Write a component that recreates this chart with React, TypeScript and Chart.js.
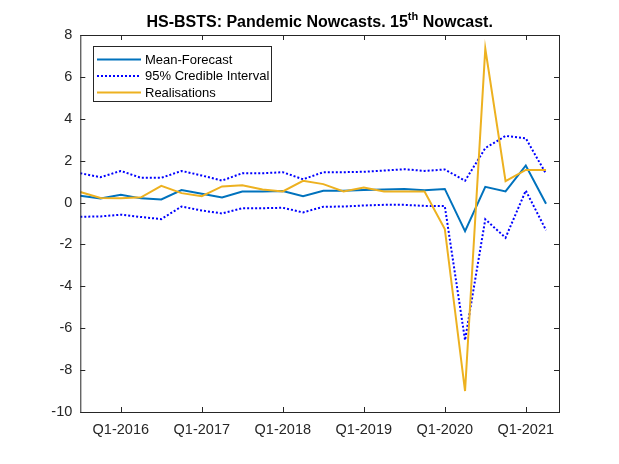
import React, { useEffect, useRef } from 'react';
import { Chart, registerables } from 'chart.js';

Chart.register(...registerables);

// quarters from Q3-2015 to Q2-2021
const quarters = [
  'Q3-2015', 'Q4-2015', 'Q1-2016', 'Q2-2016', 'Q3-2016', 'Q4-2016',
  'Q1-2017', 'Q2-2017', 'Q3-2017', 'Q4-2017', 'Q1-2018', 'Q2-2018',
  'Q3-2018', 'Q4-2018', 'Q1-2019', 'Q2-2019', 'Q3-2019', 'Q4-2019',
  'Q1-2020', 'Q2-2020', 'Q3-2020', 'Q4-2020', 'Q1-2021', 'Q2-2021',
];

const meanForecast = [
  0.33, 0.2, 0.37, 0.2, 0.15, 0.6, 0.42, 0.24, 0.53, 0.53, 0.55, 0.3,
  0.56, 0.56, 0.6, 0.62, 0.65, 0.59, 0.65, -1.37, 0.75, 0.53, 1.77, -0.06,
];
const upperCI = [
  1.4, 1.21, 1.51, 1.18, 1.18, 1.51, 1.29, 1.05, 1.4, 1.4, 1.45, 1.11,
  1.45, 1.45, 1.47, 1.53, 1.59, 1.51, 1.58, 1.04, 2.6, 3.18, 3.07, 1.37,
];
const lowerCI = [
  -0.68, -0.66, -0.58, -0.69, -0.79, -0.19, -0.38, -0.52, -0.27, -0.27, -0.25, -0.47,
  -0.2, -0.19, -0.14, -0.11, -0.11, -0.16, -0.17, -6.57, -0.8, -1.68, 0.57, -1.32,
];
const realisations = [
  0.5, 0.22, 0.2, 0.25, 0.8, 0.45, 0.3, 0.77, 0.83, 0.62, 0.53, 1.04,
  0.88, 0.53, 0.72, 0.53, 0.53, 0.53, -1.26, -9.0, 7.35, 1.02, 1.56, 1.56,
];

const xTickLabels = ['Q1-2016', 'Q1-2017', 'Q1-2018', 'Q1-2019', 'Q1-2020', 'Q1-2021'];
const yTicks = [-10, -8, -6, -4, -2, 0, 2, 4, 6, 8];

const AXIS_COLOR = '#262626';
const FONT = '"Liberation Sans", Arial, sans-serif';

const toPoints = (vals: number[]) => vals.map((y, i) => ({ x: i, y }));

// box, inward ticks, title and legend drawn MATLAB-like
const decorPlugin = {
  id: 'decor',
  afterDatasetsDraw(chart: any) {
    const { ctx, chartArea: a, scales } = chart;
    ctx.save();
    ctx.strokeStyle = AXIS_COLOR;
    ctx.lineWidth = 1;
    ctx.strokeRect(a.left + 0.5, a.top + 0.5, a.right - a.left, a.bottom - a.top);
    ctx.beginPath();
    const tl = 5;
    scales.x.ticks.forEach((t: any) => {
      const px = Math.round(scales.x.getPixelForValue(t.value)) + 0.5;
      ctx.moveTo(px, a.bottom);
      ctx.lineTo(px, a.bottom - tl);
      ctx.moveTo(px, a.top);
      ctx.lineTo(px, a.top + tl);
    });
    scales.y.ticks.forEach((t: any) => {
      const py = Math.round(scales.y.getPixelForValue(t.value)) + 0.5;
      ctx.moveTo(a.left, py);
      ctx.lineTo(a.left + tl, py);
      ctx.moveTo(a.right, py);
      ctx.lineTo(a.right - tl, py);
    });
    ctx.stroke();

    // title with superscript
    const cx = (a.left + a.right) / 2;
    const part1 = 'HS-BSTS: Pandemic Nowcasts. 15';
    const sup = 'th';
    const part2 = ' Nowcast.';
    ctx.fillStyle = '#000';
    ctx.textBaseline = 'alphabetic';
    ctx.textAlign = 'left';
    ctx.font = `bold 16px ${FONT}`;
    const w1 = ctx.measureText(part1).width;
    const w3 = ctx.measureText(part2).width;
    ctx.font = `bold 11px ${FONT}`;
    const w2 = ctx.measureText(sup).width;
    const x0 = cx - (w1 + w2 + w3) / 2;
    const by = 27;
    ctx.font = `bold 16px ${FONT}`;
    ctx.fillText(part1, x0, by);
    ctx.font = `bold 11px ${FONT}`;
    ctx.fillText(sup, x0 + w1, by - 7);
    ctx.font = `bold 16px ${FONT}`;
    ctx.fillText(part2, x0 + w1 + w2, by);

    // legend
    const lx = 93.5, ly = 46.5, lw = 178, lh = 55;
    ctx.fillStyle = '#fff';
    ctx.fillRect(lx, ly, lw, lh);
    ctx.strokeStyle = AXIS_COLOR;
    ctx.strokeRect(lx, ly, lw, lh);
    ctx.font = `13px ${FONT}`;
    ctx.textBaseline = 'middle';
    chart.data.datasets.forEach((ds: any) => {
      if (ds.hideInLegend) return;
      const yy = 59.5 + ds.legendRow * 16.5;
      ctx.strokeStyle = ds.borderColor;
      ctx.lineWidth = 2;
      ctx.setLineDash(ds.borderDash || []);
      ctx.beginPath();
      ctx.moveTo(97, yy);
      ctx.lineTo(141, yy);
      ctx.stroke();
      ctx.setLineDash([]);
      ctx.fillStyle = '#000';
      ctx.fillText(ds.label, 145, yy + 0.5);
    });
    ctx.restore();
  },
};

const App: React.FC = () => {
  const chartRef = useRef<HTMLCanvasElement | null>(null);
  const chartInstance = useRef<Chart | null>(null);

  useEffect(() => {
    if (!chartRef.current) return;
    chartInstance.current = new Chart(chartRef.current, {
      type: 'line',
      data: {
        datasets: [
          {
            label: 'Realisations',
            data: toPoints(realisations),
            borderColor: '#EDB120',
            borderWidth: 2,
            pointRadius: 0,
            order: 0,
            legendRow: 2,
          } as any,
          {
            label: 'Mean-Forecast',
            data: toPoints(meanForecast),
            borderColor: '#0072BD',
            borderWidth: 2,
            pointRadius: 0,
            order: 1,
            legendRow: 0,
          } as any,
          {
            label: '95% Credible Interval',
            data: toPoints(upperCI),
            borderColor: '#0000FF',
            borderWidth: 2,
            borderDash: [2, 2],
            pointRadius: 0,
            order: 2,
            legendRow: 1,
          } as any,
          {
            label: '95% Credible Interval',
            data: toPoints(lowerCI),
            borderColor: '#0000FF',
            borderWidth: 2,
            borderDash: [2, 2],
            pointRadius: 0,
            order: 3,
            hideInLegend: true,
          } as any,
        ],
      },
      options: {
        responsive: false,
        animation: false,
        layout: { padding: { left: 0, right: 60, top: 35, bottom: 0 } },
        plugins: { legend: { display: false }, tooltip: { enabled: false }, title: { display: false } },
        scales: {
          x: {
            type: 'linear',
            min: 0,
            max: 23.64,
            grid: { display: false, drawTicks: false },
            border: { display: false },
            afterFit: (s: any) => { s.height = 52; },
            afterBuildTicks: (s: any) => {
              s.ticks = xTickLabels.map((l) => ({ value: quarters.indexOf(l) }));
            },
            ticks: {
              padding: 9,
              maxRotation: 0,
              autoSkip: false,
              color: AXIS_COLOR,
              font: { family: FONT, size: 14.5 },
              callback: (v: any) => quarters[v as number],
            },
          },
          y: {
            min: -10,
            max: 8,
            grid: { display: false, drawTicks: false },
            border: { display: false },
            afterFit: (s: any) => { s.width = 80.3; },
            afterBuildTicks: (s: any) => {
              s.ticks = yTicks.map((v) => ({ value: v }));
            },
            ticks: {
              padding: 8,
              color: AXIS_COLOR,
              font: { family: FONT, size: 14.5 },
              callback: (v: any) => String(v),
            },
          },
        },
      },
      plugins: [decorPlugin],
    } as any);

    return () => {
      if (chartInstance.current) {
        chartInstance.current.destroy();
      }
    };
  }, []);

  return (
    <div style={{ position: 'fixed', left: 0, top: 0, width: 619, height: 464, background: '#fff' }}>
      <canvas ref={chartRef} width={619} height={464}></canvas>
    </div>
  );
};

export default App;
